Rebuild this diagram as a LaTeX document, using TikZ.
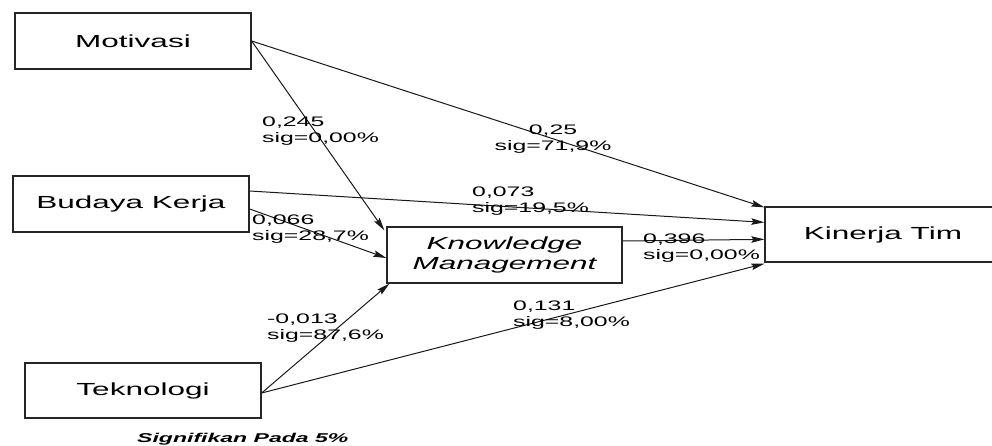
\documentclass[tikz,border=0pt]{standalone}
\usepackage{fontspec}
\setmainfont[FakeStretch=1.8]{Liberation Sans}
\usetikzlibrary{arrows.meta}
\begin{document}
\begin{tikzpicture}[x=1pt,y=-1pt,
  box/.style={draw=black!85, line width=1.3pt, rectangle, inner sep=0pt,
    minimum width=236pt, minimum height=56pt, align=center,
    font=\fontsize{17.5}{20.5}\selectfont},
  coef/.style={inner sep=0pt, anchor=west, align=left,
    font=\fontsize{13.8}{15.8}\selectfont},
  path/.style={draw=black!90, line width=1pt,
    -{Stealth[length=13pt,width=6.5pt,inset=2pt]}}]
\useasboundingbox (0,0) rectangle (992,446);
\clip (0,0) rectangle (992,446);

% variables
\node[box] (mot) at (133,41) {Motivasi};
\node[box] (bud) at (131,204) {Budaya Kerja};
\node[box, minimum height=55pt] (tek) at (143,390.5) {Teknologi};
\node[box, minimum width=235pt] (km) at (504.5,255) {\itshape Knowledge\\\itshape Management};
\node[box, minimum height=55pt, minimum width=250pt] (kin) at (890,234.5) {\hspace*{-14pt}Kinerja Tim};

% paths
\draw[path] (mot.east) -- ([xshift=-2pt,yshift=-4pt]km.north west);
\draw[path] (mot.east) -- ([yshift=-1pt]kin.north west);
\draw[path] ([yshift=13pt]bud.east) -- ([yshift=-16pt]kin.north west);
\draw[path] ([yshift=-5pt]bud.east) -- ([yshift=-3pt]km.west);
\draw[path] ([yshift=14pt]km.east) -- ([yshift=-33pt]kin.north west);
\draw[path] ([yshift=-2.5pt]tek.east) -- ([xshift=3pt]km.south west);
\draw[path] ([yshift=-2.5pt]tek.east) -- ([yshift=-1pt]kin.south west);

% path coefficients
\node[coef] (c1) at (262,131.5) {0,245\\sig=0,00\%};
\node[coef, anchor=center, align=center] (c2) at (553,139) {0,25\\sig=71,9\%};
\node[coef] (c3) at (472,201.5) {0,073\\sig=19,5\%};
\node[coef] (c4) at (252,229.5) {0,066\\sig=28,7\%};
\node[coef] (c5) at (643,248) {0,396\\sig=0,00\%};
\node[coef] (c6) at (267,328) {-0,013\\sig=87,6\%};
\node[coef] (c7) at (513,315.5) {0,131\\sig=8,00\%};

% note
\node[inner sep=0pt, anchor=west, font=\fontsize{12.8}{15}\selectfont\bfseries\itshape] (note) at (137,439) {Signifikan Pada 5\%};
\end{tikzpicture}
\end{document}
